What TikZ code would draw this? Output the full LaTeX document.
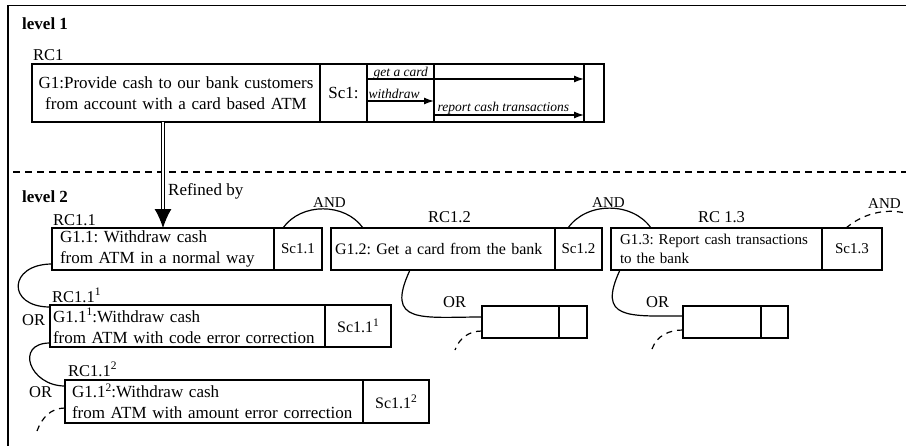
\documentclass[tikz,border=0pt]{standalone}
\usepackage{fontspec}
\setmainfont{Liberation Serif}
\usetikzlibrary{positioning}
\usetikzlibrary{arrows.meta}
\frenchspacing

\newcommand{\supnum}[1]{\raisebox{0.38em}{\fontsize{11.5}{12}\selectfont #1}}

\tikzset{
  box/.style={draw, line width=1.3pt, outer sep=0pt, inner sep=0pt},
  goal/.style={box, anchor=north west, align=left, inner xsep=8pt, font=\fontsize{17}{21}\selectfont},
  scen/.style={box, align=center, font=\fontsize{15}{18}\selectfont},
  rclabel/.style={anchor=base west, inner sep=0pt, font=\fontsize{16.5}{20}\selectfont},
  levellabel/.style={anchor=base west, inner sep=0pt, font=\fontsize{17}{20}\selectfont\bfseries},
  oplabel/.style={anchor=base west, inner sep=0pt, font=\fontsize{15}{18}\selectfont},
  arc/.style={line width=1.2pt},
  stub/.style={line width=1.2pt, dash pattern=on 6pt off 5pt},
  msg/.style={line width=1.3pt, -{Latex[length=10pt,width=7pt]}},
  msglabel/.style={inner sep=0pt, font=\fontsize{13.5}{16}\selectfont\itshape},
  refine/.style={double, double distance=1.5pt, line width=1pt, -{Latex[length=19pt,width=17pt]}},
}

\begin{document}
\begin{tikzpicture}[x=1pt, y=1pt]

\useasboundingbox (0,0) rectangle (906,-445);
\clip (0,0) rectangle (906,-445);

% frame and level separator
\draw[line width=1.5pt] (8,-460) -- (8,-5.5) -- (920,-5.5);
\draw[line width=1.4pt, dash pattern=on 7pt off 5pt] (13,-172) -- (910,-172);

\node[levellabel] (lev1) at (22,-29) {level 1};
\node[levellabel] (lev2) at (22,-202) {level 2};

%%% level 1
\node[rclabel] (rc1) at (33,-60) {RC1};
\node[goal, align=center, inner xsep=4pt, text width=280pt, minimum height=58pt] (g1) at (32,-64)
{G1:Provide cash to our bank customers\\from account with a card based ATM};
\node[scen, right=0pt of g1, minimum width=47pt, minimum height=58pt, font=\fontsize{17}{20}\selectfont] (sc1) {Sc1:};
\node[box, right=0pt of sc1, minimum width=67pt, minimum height=58pt] (lane1) {};
\node[box, right=0pt of lane1, minimum width=150pt, minimum height=58pt] (lane2) {};
\node[box, right=0pt of lane2, minimum width=20pt, minimum height=58pt] (lane3) {};

\draw[msg] ([yshift=-15pt]lane1.north west) -- ([yshift=-15pt]lane2.north east)
  node[msglabel, at start, anchor=base west, xshift=6pt, yshift=2.5pt] {get a card};
\draw[msg] ([yshift=-37pt]lane1.north west) -- ([yshift=-37pt]lane1.north east)
  node[msglabel, at start, anchor=base west, xshift=1pt, yshift=3pt] {withdraw};
\draw[msg] ([yshift=-51pt]lane2.north west) -- ([yshift=-51pt]lane2.north east)
  node[msglabel, at start, anchor=base west, xshift=3pt, yshift=4pt] {report cash transactions};

%%% level 2
\node[rclabel] (rc11) at (53,-225) {RC1.1};
\node[goal, text width=206pt, minimum height=42pt] (g11) at (52,-228)
{G1.1: Withdraw cash\\from ATM in a normal way};
\node[scen, right=0pt of g11, minimum width=48pt, minimum height=42pt] (sc11) {Sc1.1};

\node[rclabel] (rc12) at (428,-222) {RC1.2};
\node[goal, inner xsep=4pt, text width=216pt, minimum height=42pt, font=\fontsize{16}{20}\selectfont] (g12) at (331,-228)
{G1.2: Get a card from the bank};
\node[scen, right=0pt of g12, minimum width=47pt, minimum height=42pt] (sc12) {Sc1.2};

\node[rclabel] (rc13) at (698,-222) {RC 1.3};
\node[goal, inner xsep=9pt, text width=193pt, minimum height=42pt, font=\fontsize{15}{19}\selectfont] (g13) at (611,-228)
{G1.3: Report cash transactions\\to the bank};
\node[scen, right=0pt of g13, minimum width=60pt, minimum height=42pt] (sc13) {Sc1.3};

\node[rclabel] (rc111) at (52,-302) {RC1.1\supnum{1}};
\node[goal, inner xsep=3pt, text width=269pt, minimum height=42pt] (g111) at (50,-305)
{G1.1\supnum{1}:Withdraw cash\\from ATM with code error correction};
\node[scen, right=0pt of g111, minimum width=66pt, minimum height=42pt, font=\fontsize{16}{20}\selectfont] (sc111) {Sc1.1\supnum{1}};

\node[rclabel] (rc112) at (68,-376) {RC1.1\supnum{2}};
\node[goal, inner xsep=7pt, text width=284pt, minimum height=43pt] (g112) at (65,-380)
{G1.1\supnum{2}:Withdraw cash\\from ATM with amount error correction};
\node[scen, right=0pt of g112, minimum width=66pt, minimum height=43pt, font=\fontsize{16}{20}\selectfont] (sc112) {Sc1.1\supnum{2}};

% empty alternatives
\node[box, anchor=north west, minimum width=77pt, minimum height=32pt] (alta) at (482,-306) {};
\node[box, right=0pt of alta, minimum width=28pt, minimum height=32pt] (altas) {};
\node[box, anchor=north west, minimum width=78pt, minimum height=32pt] (altb) at (683,-306) {};
\node[box, right=0pt of altb, minimum width=27pt, minimum height=32pt] (altbs) {};

% refinement
\draw[refine] (g1.south -| g11.north) -- (g11.north);
\node[anchor=base west, inner sep=0pt, font=\fontsize{17}{20}\selectfont] (refby) at (168,-195) {Refined by};

% AND links
\draw[arc] ([xshift=9pt]sc11.north west) to[out=55, in=125] ([xshift=32pt]g12.north west);
\draw[arc] ([xshift=13pt]sc12.north west) to[out=55, in=125] ([xshift=40pt]g13.north west);
\coordinate (andnext) at (935,-228);
\draw[stub] ([xshift=24pt]sc13.north west) to[out=40, in=140] (andnext);
\node[oplabel] (and1) at (313,-207) {AND};
\node[oplabel] (and2) at (592,-207) {AND};
\node[oplabel] (and3) at (868,-208) {AND};

% OR links
\draw[arc] ([yshift=6pt]g11.south west) to[out=180, in=180, looseness=2.6] ([yshift=-2pt]g111.north west);
\draw[arc] ([yshift=4pt]g111.south west) to[out=180, in=180, looseness=2] ([yshift=-6pt]g112.north west);
\draw[arc] ([xshift=79pt]g12.south west) to[out=-115, in=180, looseness=1.8] ([yshift=-11pt]alta.north west);
\draw[arc] ([xshift=9pt]g13.south west) to[out=-115, in=180, looseness=1.8] ([yshift=-10pt]altb.north west);
\node[rclabel] (or1) at (22,-325) {OR};
\node[rclabel] (or2) at (29,-397) {OR};
\node[rclabel] (ora) at (443,-307) {OR};
\node[rclabel] (orb) at (646,-307) {OR};

% further alternatives
\coordinate (mora) at (455,-350);
\coordinate (morb) at (652,-349);
\coordinate (mor2) at (37,-431);
\draw[stub] ([yshift=7pt]alta.south west) to[out=180, in=70] (mora);
\draw[stub] ([yshift=8pt]altb.south west) to[out=180, in=70] (morb);
\draw[stub] ([yshift=15pt]g112.south west) to[out=180, in=70] (mor2);

\end{tikzpicture}
\end{document}
